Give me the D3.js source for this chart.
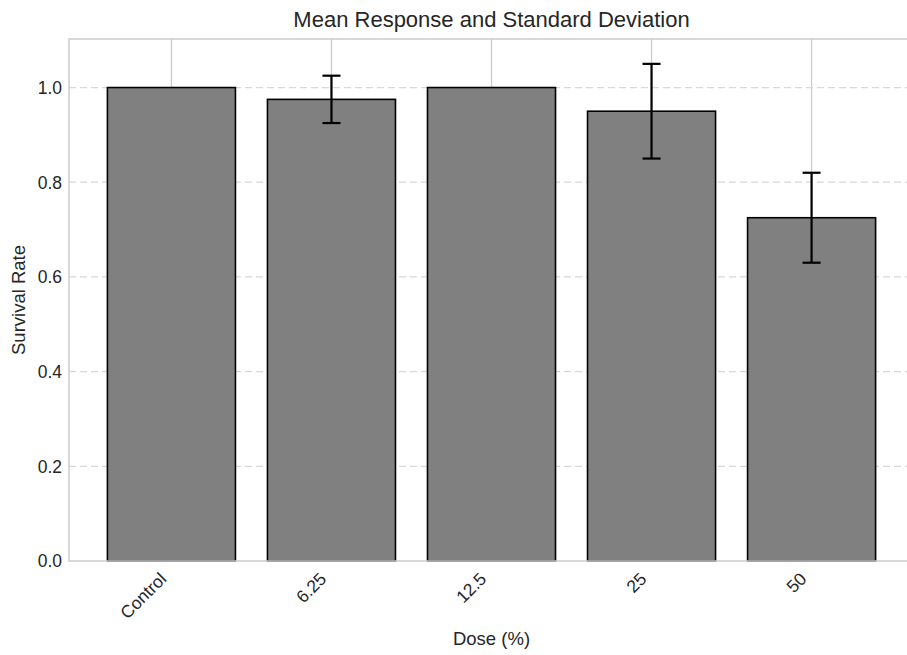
<!DOCTYPE html>
<html>
<head>
<meta charset="utf-8">
<script src="https://cdn.jsdelivr.net/npm/d3@7"></script>
<style>
  body { margin: 0; background: #fff; }
  text { font-family: "Liberation Sans", Arial, sans-serif; fill: #262626; }
</style>
</head>
<body>
<svg id="chart" width="907" height="655"></svg>
<script>
// data
var doses = ["Control", "6.25", "12.5", "25", "50"];
var means = [1.0, 0.975, 1.0, 0.95, 0.725];
var sds = [0, 0.05, 0, 0.1, 0.095];
var y_ticks = [0.0, 0.2, 0.4, 0.6, 0.8, 1.0];

var svg = d3.select("#chart");
var left = 69, right = 914, top_ = 39, bottom = 561;

// matplotlib style index axis, bars at 0..4
var x = d3.scaleLinear().domain([-0.64, 4.64]).range([left, right]);
var y = d3.scaleLinear().domain([0, 1.1025]).range([bottom, top_]);
var bar_w = x(0.8) - x(0);

// grid
svg.append("g").selectAll("line")
   .data(doses)
   .enter().append("line")
   .attr("x1", function (d, i) { return x(i); })
   .attr("x2", function (d, i) { return x(i); })
   .attr("y1", top_).attr("y2", bottom)
   .attr("stroke", "#cccccc").attr("stroke-width", 1.3);

svg.append("g").selectAll("line")
   .data(y_ticks.slice(1))
   .enter().append("line")
   .attr("x1", left).attr("x2", right)
   .attr("y1", function (d) { return y(d); })
   .attr("y2", function (d) { return y(d); })
   .attr("stroke", "#d8d8d8").attr("stroke-width", 1.3)
   .attr("stroke-dasharray", "7,4");

// bars
svg.append("g").selectAll("rect")
   .data(means)
   .enter().append("rect")
   .attr("x", function (d, i) { return x(i) - bar_w / 2; })
   .attr("y", function (d) { return y(d); })
   .attr("width", bar_w)
   .attr("height", function (d) { return bottom - y(d); })
   .attr("fill", "#808080")
   .attr("stroke", "#000").attr("stroke-width", 1.6);

// error bars (none drawn where sd is 0)
var err_data = means.map(function (m, i) { return {i: i, m: m, sd: sds[i]}; })
                    .filter(function (d) { return d.sd > 0; });
var err = svg.append("g").selectAll("g")
   .data(err_data)
   .enter().append("g")
   .attr("stroke", "#000").attr("stroke-width", 2.2);
err.append("line")
   .attr("x1", function (d) { return x(d.i); })
   .attr("x2", function (d) { return x(d.i); })
   .attr("y1", function (d) { return y(d.m - d.sd); })
   .attr("y2", function (d) { return y(d.m + d.sd); });
[-1, 1].forEach(function (s) {
  err.append("line")
     .attr("x1", function (d) { return x(d.i) - 9; })
     .attr("x2", function (d) { return x(d.i) + 9; })
     .attr("y1", function (d) { return y(d.m + s * d.sd); })
     .attr("y2", function (d) { return y(d.m + s * d.sd); });
});

// spines
svg.append("rect")
   .attr("x", left).attr("y", top_)
   .attr("width", right - left).attr("height", bottom - top_)
   .attr("fill", "none").attr("stroke", "#cccccc").attr("stroke-width", 1.5);

// y tick labels
svg.append("g").selectAll("text")
   .data(y_ticks)
   .enter().append("text")
   .attr("x", left - 7)
   .attr("y", function (d) { return y(d); })
   .attr("dy", "0.36em")
   .attr("text-anchor", "end")
   .style("font-size", "17.5px")
   .text(function (d) { return d.toFixed(1); });

// x tick labels, rotated
svg.append("g").selectAll("text")
   .data(doses)
   .enter().append("text")
   .attr("transform", function (d, i) { return "translate(" + (x(i) - 4) + "," + (bottom + 19) + ") rotate(-45)"; })
   .attr("text-anchor", "end")
   .style("font-size", "17.5px")
   .text(function (d) { return d; });

// labels
svg.append("text")
   .attr("x", (left + right) / 2).attr("y", 27)
   .attr("text-anchor", "middle")
   .style("font-size", "22px")
   .text("Mean Response and Standard Deviation");

svg.append("text")
   .attr("x", (left + right) / 2).attr("y", 645)
   .attr("text-anchor", "middle")
   .style("font-size", "18.5px")
   .text("Dose (%)");

svg.append("text")
   .attr("transform", "translate(25," + ((top_ + bottom) / 2) + ") rotate(-90)")
   .attr("text-anchor", "middle")
   .style("font-size", "18.5px")
   .text("Survival Rate");
</script>
</body>
</html>
